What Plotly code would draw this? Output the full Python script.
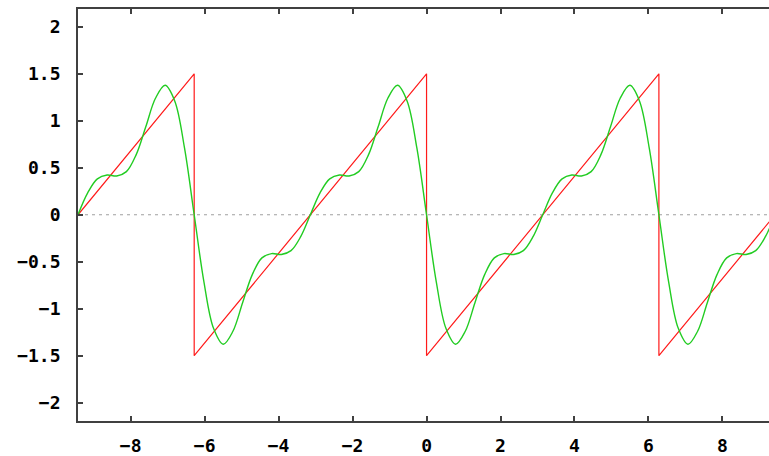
import plotly.graph_objects as go

# Sawtooth wave (corner points of the piecewise-linear ramp)
saw_x = [-9.425, -6.283, -6.283, 0.0, 0.0, 6.283, 6.283, 9.425]
saw_y = [0.0, 1.5, -1.5, 1.5, -1.5, 1.5, -1.5, 0.0]

# Three-harmonic approximation, sampled every pi/12
approx_x = [
    -9.425, -9.163, -8.901, -8.639, -8.378, -8.116, -7.854, -7.592, -7.330, -7.069,
    -6.807, -6.545, -6.283, -6.021, -5.760, -5.498, -5.236, -4.974, -4.712, -4.451,
    -4.189, -3.927, -3.665, -3.403, -3.142, -2.880, -2.618, -2.356, -2.094, -1.833,
    -1.571, -1.309, -1.047, -0.785, -0.524, -0.262, 0.0, 0.262, 0.524, 0.785,
    1.047, 1.309, 1.571, 1.833, 2.094, 2.356, 2.618, 2.880, 3.142, 3.403,
    3.665, 3.927, 4.189, 4.451, 4.712, 4.974, 5.236, 5.498, 5.760, 6.021,
    6.283, 6.545, 6.807, 7.069, 7.330, 7.592, 7.854, 8.116, 8.378, 8.639,
    8.901, 9.163, 9.425,
]
approx_y = [
    0.0, 0.233, 0.382, 0.423, 0.413, 0.459, 0.637, 0.936, 1.240, 1.378,
    1.209, 0.711, 0.0, -0.711, -1.209, -1.378, -1.240, -0.936, -0.637, -0.459,
    -0.413, -0.423, -0.382, -0.233, 0.0, 0.233, 0.382, 0.423, 0.413, 0.459,
    0.637, 0.936, 1.240, 1.378, 1.209, 0.711, 0.0, -0.711, -1.209, -1.378,
    -1.240, -0.936, -0.637, -0.459, -0.413, -0.423, -0.382, -0.233, 0.0, 0.233,
    0.382, 0.423, 0.413, 0.459, 0.637, 0.936, 1.240, 1.378, 1.209, 0.711,
    0.0, -0.711, -1.209, -1.378, -1.240, -0.936, -0.637, -0.459, -0.413, -0.423,
    -0.382, -0.233, 0.0,
]

x_ticks = [-8, -6, -4, -2, 0, 2, 4, 6, 8]
x_labels = ["\u22128", "\u22126", "\u22124", "\u22122", "0", "2", "4", "6", "8"]
y_ticks = [-2, -1.5, -1, -0.5, 0, 0.5, 1, 1.5, 2]
y_labels = ["\u22122", "\u22121.5", "\u22121", "\u22120.5", "0", "0.5", "1", "1.5", "2"]

fig = go.Figure()
fig.add_trace(go.Scatter(x=saw_x, y=saw_y, mode="lines",
                         line=dict(color="#ff1a1a", width=1.2), name="sawtooth"))
fig.add_trace(go.Scatter(x=approx_x, y=approx_y, mode="lines",
                         line=dict(color="#22cc22", width=1.4, shape="spline", smoothing=1.0),
                         name="approximation"))

# dotted zero axis
fig.add_shape(type="line", xref="paper", x0=0, x1=1, yref="y", y0=0, y1=0,
              line=dict(color="#a0a0a0", width=1.2, dash="3px,4px"), layer="below")

tick_font = dict(family="DejaVu Sans Mono", size=18, color="#000000", weight="bold")

fig.update_layout(
    width=769, height=456,
    margin=dict(l=78, r=0, t=9, b=35, autoexpand=False),
    paper_bgcolor="white", plot_bgcolor="white",
    showlegend=False,
    xaxis=dict(range=[-9.4248, 9.26], tickmode="array", tickvals=x_ticks, ticktext=x_labels,
               ticks="inside", ticklen=5, tickwidth=1.5, tickcolor="#404040",
               showline=True, linecolor="#404040", linewidth=1.8, mirror="ticks",
               showgrid=False, zeroline=False, tickfont=tick_font, ticklabelstandoff=7,
               automargin=False),
    yaxis=dict(range=[-2.195, 2.19], tickmode="array", tickvals=y_ticks, ticktext=y_labels,
               ticks="inside", ticklen=5, tickwidth=1.5, tickcolor="#404040",
               showline=True, linecolor="#404040", linewidth=1.8, mirror=False,
               showgrid=False, zeroline=False, tickfont=tick_font, ticklabelstandoff=12,
               automargin=False),
)

fig.write_html("out.html")
